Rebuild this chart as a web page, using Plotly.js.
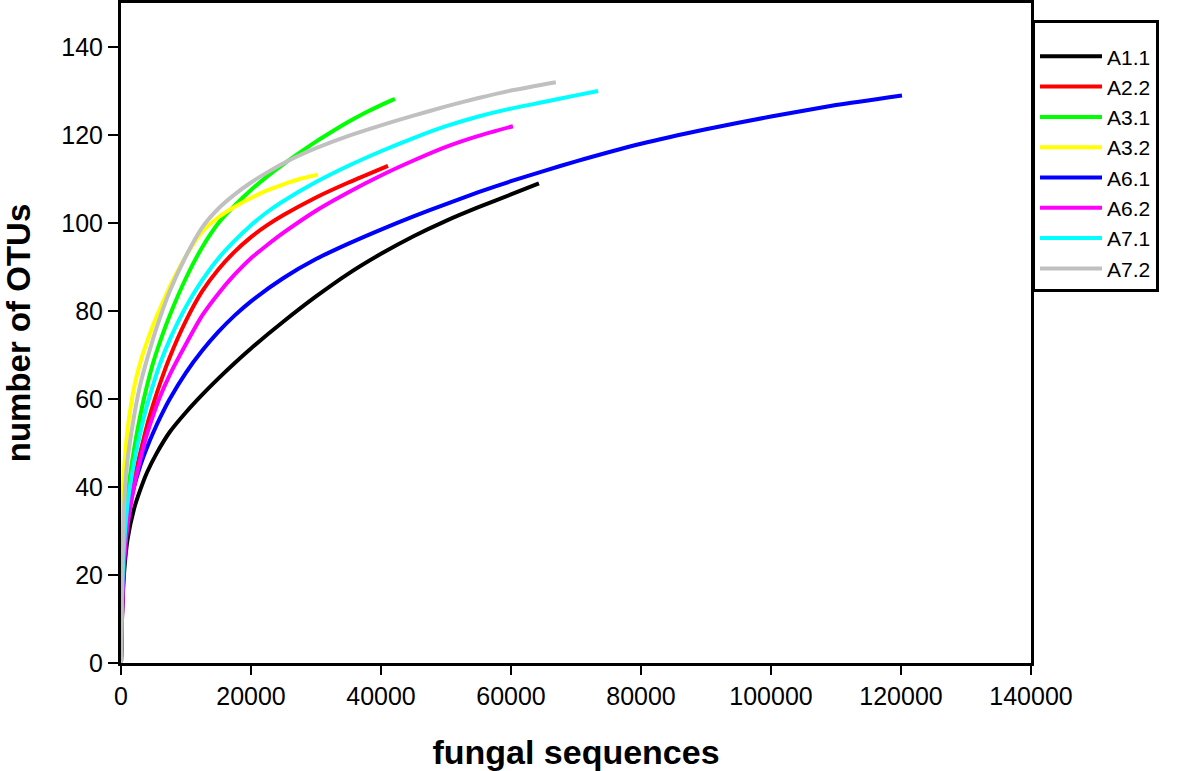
<!DOCTYPE html>
<html>
<head>
<meta charset="utf-8">
<script src="https://cdn.plot.ly/plotly-3.0.1.min.js"></script>
<style>html,body{margin:0;padding:0;background:#fff;}#chart{width:1181px;height:771px;}</style>
</head>
<body>
<div id="chart"></div>
<script>
// Series names and colours
const seriesNames = ["A1.1", "A2.2", "A3.1", "A3.2", "A6.1", "A6.2", "A7.1", "A7.2"];
const seriesColors = ["#000000", "#ff0000", "#00ff00", "#ffff00", "#0000ff", "#ff00ff", "#00ffff", "#c0c0c0"];

// A1.1 (black)
const A11_x = [0, 200, 500, 1000, 2000, 3000, 4000, 5500, 7500, 10000, 12500, 15000, 17500, 20000, 25000, 30000, 35000, 40000, 45000, 50000, 55000, 60000, 64300];
const A11_y = [0, 12, 21, 28, 35, 39.5, 43.3, 47.7, 52.5, 57, 61, 64.7, 68.2, 71.5, 77.6, 83.3, 88.5, 93, 97, 100.5, 103.6, 106.5, 109];
// A2.2 (red)
const A22_x = [0, 200, 500, 1000, 2000, 3000, 4000, 5000, 6000, 7500, 10000, 12500, 15000, 17500, 20000, 22500, 25000, 30000, 35000, 41080];
const A22_y = [0, 14, 25, 33, 41.5, 48, 54, 59, 63.5, 69.5, 77.8, 84.5, 89.5, 93.5, 96.8, 99.5, 101.8, 105.8, 109.2, 113];
// A3.1 (green)
const A31_x = [0, 150, 400, 1000, 2000, 3000, 4000, 5000, 6000, 7500, 10000, 12500, 15000, 17500, 20000, 22500, 25000, 27500, 30000, 32500, 35000, 37500, 40000, 42150];
const A31_y = [0, 16, 27, 38, 48.5, 56.5, 63, 68.5, 73, 79, 87.5, 94.5, 100, 104, 107.5, 110.6, 113.4, 116, 118.5, 120.8, 123, 125, 126.8, 128.2];
// A3.2 (yellow)
const A32_x = [0, 100, 300, 600, 1000, 2000, 3000, 4000, 5000, 6000, 7500, 10000, 12500, 15000, 17500, 20000, 22500, 25000, 27500, 30300];
const A32_y = [0, 22, 39, 46.5, 53, 62.5, 68.5, 73, 77, 80.5, 85.5, 92.5, 98, 101.3, 103.7, 105.7, 107.4, 108.8, 110, 111];
// A6.1 (blue)
const A61_x = [0, 300, 1000, 2000, 3000, 4000, 5000, 6000, 7500, 10000, 12500, 15000, 17500, 20000, 25000, 30000, 35000, 40000, 45000, 50000, 55000, 60000, 65000, 70000, 80000, 90000, 100000, 110000, 120150];
const A61_y = [0, 18, 33, 40, 45, 49, 52.5, 55.7, 60, 66, 71, 75.3, 79, 82.2, 87.5, 91.8, 95.3, 98.5, 101.5, 104.3, 107, 109.5, 111.8, 114, 118, 121.3, 124.2, 126.8, 129];
// A6.2 (magenta)
const A62_x = [0, 200, 500, 1000, 2000, 3000, 4000, 5000, 6000, 7500, 10000, 12500, 15000, 17500, 20000, 22500, 25000, 30000, 35000, 40000, 45000, 50000, 55000, 60300];
const A62_y = [0, 13, 23, 31, 40, 46.5, 52, 56.5, 60.5, 65.5, 72.5, 79, 84, 88.3, 92, 95, 97.8, 102.8, 107, 110.8, 114.2, 117.3, 119.8, 122];
// A7.1 (cyan)
const A71_x = [0, 150, 400, 1000, 2000, 3000, 4000, 5000, 6000, 7500, 10000, 12500, 15000, 17500, 20000, 22500, 25000, 30000, 35000, 40000, 45000, 50000, 55000, 60000, 65000, 70000, 73400];
const A71_y = [0, 14, 25, 36, 45.5, 52.5, 58.5, 63.5, 68, 73.5, 81, 87, 92, 96, 99.5, 102.5, 105, 109.3, 113, 116.3, 119.3, 122, 124.2, 126, 127.5, 129, 130];
// A7.2 (gray)
const A72_x = [0, 120, 300, 600, 1000, 2000, 3000, 4000, 5000, 6000, 7500, 10000, 12500, 15000, 17500, 20000, 22500, 25000, 27500, 30000, 35000, 40000, 45000, 50000, 55000, 60000, 66900];
const A72_y = [0, 16, 28, 39, 46, 56, 63.5, 69, 74, 78.5, 84.5, 92.5, 99, 103.3, 106.5, 109.2, 111.5, 113.6, 115.4, 117, 119.8, 122.2, 124.4, 126.5, 128.4, 130.1, 132];

// Axis ticks
const xTicks = [0, 20000, 40000, 60000, 80000, 100000, 120000, 140000];
const yTicks = [0, 20, 40, 60, 80, 100, 120, 140];

const xs = [A11_x, A22_x, A31_x, A32_x, A61_x, A62_x, A71_x, A72_x];
const ys = [A11_y, A22_y, A31_y, A32_y, A61_y, A62_y, A71_y, A72_y];

const traces = seriesNames.map((n, i) => ({
  x: xs[i], y: ys[i], name: n, type: 'scatter', mode: 'lines',
  line: {color: seriesColors[i], width: 4, shape: 'spline', smoothing: 0.6}
}));

const FONT = 'Arial, "Liberation Sans", sans-serif';
const layout = {
  width: 1181, height: 771,
  margin: {l: 121, r: 150, t: 3, b: 108},
  paper_bgcolor: '#ffffff', plot_bgcolor: '#ffffff',
  font: {family: FONT, color: '#000000', size: 25},
  showlegend: true,
  legend: {
    x: 1.0011, xanchor: 'left', y: 0.974, yanchor: 'top',
    bgcolor: '#ffffff', bordercolor: '#000000', borderwidth: 3,
    font: {family: FONT, size: 21, color: '#000000'},
    title: {text: ' ', font: {family: FONT, size: 10}},
    traceorder: 'normal', itemwidth: 62
  },
  xaxis: {
    range: [0, 140000], tickvals: xTicks, tickformat: 'd',
    showline: true, linecolor: '#000000', linewidth: 3, mirror: true,
    ticks: 'outside', ticklen: 9, tickwidth: 2, tickcolor: '#000000',
    showgrid: false, zeroline: false,
    tickfont: {family: FONT, size: 25},
    title: {text: 'fungal sequences', font: {family: FONT, size: 34, weight: 'bold'}, standoff: 40}
  },
  yaxis: {
    range: [0, 150], tickvals: yTicks,
    showline: true, linecolor: '#000000', linewidth: 3, mirror: true,
    ticks: 'outside', ticklen: 10, tickwidth: 2, tickcolor: '#000000',
    showgrid: false, zeroline: false,
    tickfont: {family: FONT, size: 25},
    title: {text: 'number of OTUs', font: {family: FONT, size: 33, weight: 'bold'}, standoff: 22}
  }
};

Plotly.newPlot('chart', traces, layout, {displayModeBar: false, staticPlot: true});
</script>
</body>
</html>
